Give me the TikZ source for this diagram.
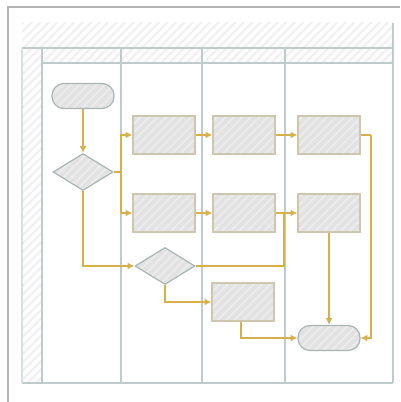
\documentclass[tikz,border=0pt]{standalone}
\usepackage{xcolor}
\usetikzlibrary{arrows.meta,patterns.meta,shapes.geometric,positioning}

\definecolor{flowgold}{HTML}{D6B04A}
\definecolor{lanegray}{HTML}{BFCACA}
\definecolor{shapegray}{HTML}{E2E2E2}
\definecolor{boxedge}{HTML}{CFC6B0}
\definecolor{roundedge}{HTML}{A9B5B5}
\definecolor{framegray}{HTML}{B4B4B4}

\tikzset{
    lane/.style={draw=lanegray,line width=1.1pt},
    hatched/.style={pattern={Lines[angle=45,distance=4.5pt,line width=1.6pt]},pattern color=black!6},
    shine/.style={preaction={fill=shapegray},pattern={Lines[angle=45,distance=4.5pt,line width=1.4pt]},pattern color=white!35!shapegray},
    task/.style={draw=boxedge,line width=0.9pt,shine,minimum width=46.5pt,minimum height=28.5pt,inner sep=0pt},
    terminal/.style={draw=roundedge,line width=0.9pt,shine,rounded corners=9pt,minimum width=46.5pt,minimum height=18.75pt,inner sep=0pt},
    decision/.style={diamond,draw=roundedge,line width=0.9pt,shine,minimum width=45pt,minimum height=27.75pt,inner sep=0pt},
    flow/.style={draw=flowgold,line width=1.1pt,-{Latex[length=5pt,width=5pt]}},
    link/.style={draw=flowgold,line width=1.1pt}
}

\begin{document}
\begin{tikzpicture}[x=0.75pt,y=-0.75pt]

    \useasboundingbox (0,0) rectangle (400,402);

    % Draw outer frame.
    \draw[framegray,line width=1.1pt] (8,402) -- (8,7) -- (400,7);

    % Draw header bands and left column.
    \fill[white] (22,23) rectangle (393,383);
    \fill[hatched] (22,23) rectangle (393,48);
    \fill[hatched] (42,48) rectangle (393,63);
    \fill[hatched] (22,48) rectangle (42,383);
    \draw[lane] (22,48) -- (393,48);
    \draw[lane] (42,63) -- (393,63);
    \draw[lane] (22,383) -- (393,383);
    \draw[lanegray!60,line width=0.8pt] (22,48) -- (22,383);
    \draw[lane] (393,23) -- (393,383);
    \foreach \X in {42,121,202,285}
        \draw[lane] (\X,48) -- (\X,383);

    % Draw flowchart shapes.
    \node[terminal] (start) at (83,96) {};
    \node[decision] (check) at (83,172) {};
    \foreach \N/\X in {1/164,2/244,3/329}
    {
        \node[task] (upper\N) at (\X,135) {};
        \node[task] (lower\N) at (\X,213) {};
    }
    \node[decision] (review) at (165,266) {};
    \node[task] (extra) at (243,302) {};
    \node[terminal] (finish) at (329,338) {};

    % Draw junction points.
    \coordinate (split) at (121,172);
    \coordinate (merge) at (284,213);
    \coordinate (return) at (371,135);

    % Draw connectors.
    \draw[flow] (start) -- (check);
    \draw[link] (check.east) -- (split);
    \draw[flow] (split) |- (upper1.west);
    \draw[flow] (split) |- (lower1.west);
    \draw[flow] (check.south) |- (review.west);
    \draw[flow] (upper1) -- (upper2);
    \draw[flow] (upper2) -- (upper3);
    \draw[flow] (lower1) -- (lower2);
    \draw[flow] (lower2) -- (lower3);
    \draw[link] (review.east) -| (merge);
    \draw[link] (upper3.east) -- (return);
    \draw[flow] (return) |- (finish.east);
    \draw[flow] (review.south) |- (extra.west);
    \draw[flow] (extra.south -| 241,0) |- (finish.west);
    \draw[flow] (lower3) -- (finish);

\end{tikzpicture}
\end{document}
